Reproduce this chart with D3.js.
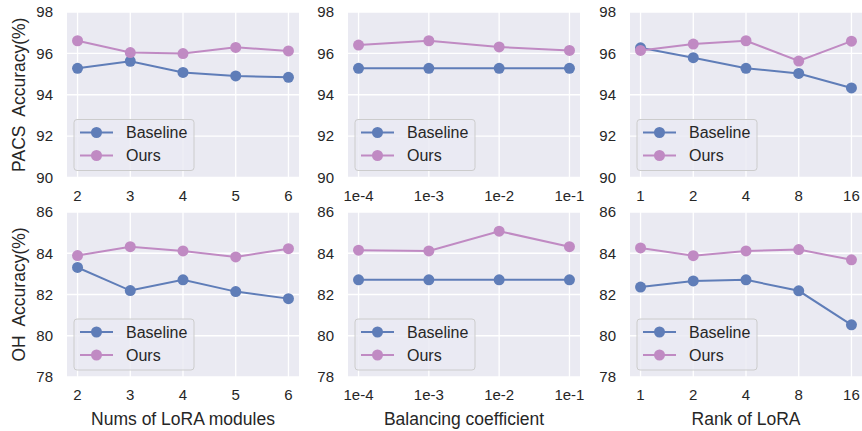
<!DOCTYPE html>
<html><head><meta charset="utf-8">
<script src="https://cdn.jsdelivr.net/npm/d3@7"></script>
<style>body{margin:0;background:#fff}svg{display:block}text{font-family:"Liberation Sans",Arial,sans-serif;fill:#262626}</style>
</head><body><div id="c"></div>
<script>
// x categories per column
const xLoRA = ["2","3","4","5","6"];
const xBal = ["1e-4","1e-3","1e-2","1e-1"];
const xRank = ["1","2","4","8","16"];
const xLabels = ["Nums of LoRA modules","Balancing coefficient","Rank of LoRA"];
const yLabels = ["PACS  Accuracy(%)","OH  Accuracy(%)"];
const yTicksPACS = [90,92,94,96,98];
const yTicksOH = [78,80,82,84,86];
// PACS row
const pacsBaseLoRA = [95.28,95.62,95.08,94.91,94.84];
const pacsOursLoRA = [96.61,96.04,95.99,96.29,96.12];
const pacsBaseBal = [95.28,95.28,95.28,95.28];
const pacsOursBal = [96.40,96.61,96.31,96.14];
const pacsBaseRank = [96.27,95.79,95.28,95.03,94.33];
const pacsOursRank = [96.14,96.45,96.61,95.63,96.59];
// OH row
const ohBaseLoRA = [83.31,82.19,82.71,82.14,81.80];
const ohOursLoRA = [83.89,84.32,84.11,83.82,84.22];
const ohBaseBal = [82.71,82.71,82.71,82.71];
const ohOursBal = [84.15,84.11,85.07,84.32];
const ohBaseRank = [82.36,82.66,82.71,82.18,80.53];
const ohOursRank = [84.26,83.88,84.11,84.18,83.68];
const seriesNames = ["Baseline","Ours"];

const W=862,H=431;
const colors=["#5f7db8","#c08ac3"];
const svg=d3.select("#c").append("svg").attr("width",W).attr("height",H);
const cols=[{x0:67,x1:299,cats:xLoRA},{x0:348,x1:580,cats:xBal},{x0:630,x1:862,cats:xRank}];
const rows=[{y0:12,y1:177.5,ticks:yTicksPACS,data:[[pacsBaseLoRA,pacsOursLoRA],[pacsBaseBal,pacsOursBal],[pacsBaseRank,pacsOursRank]]},
            {y0:212,y1:377,ticks:yTicksOH,data:[[ohBaseLoRA,ohOursLoRA],[ohBaseBal,ohOursBal],[ohBaseRank,ohOursRank]]}];

rows.forEach((r,ri)=>{
  cols.forEach((c,ci)=>{
    const n=c.cats.length;
    const x=d3.scaleLinear().domain([-0.05*(n-1),(n-1)*1.05]).range([c.x0,c.x1]);
    const y=d3.scaleLinear().domain([r.ticks[0],r.ticks[r.ticks.length-1]]).range([r.y1,r.y0]);
    const g=svg.append("g");
    g.append("rect").attr("x",c.x0).attr("y",r.y0).attr("width",c.x1-c.x0).attr("height",r.y1-r.y0).attr("fill","#eaeaf2");
    // grid
    g.selectAll(".gy").data(r.ticks).join("line").attr("x1",c.x0).attr("x2",c.x1)
      .attr("y1",d=>y(d)).attr("y2",d=>y(d)).attr("stroke","#fff").attr("stroke-width",1.3);
    g.selectAll(".gx").data(c.cats).join("line").attr("y1",r.y0).attr("y2",r.y1)
      .attr("x1",(d,i)=>x(i)).attr("x2",(d,i)=>x(i)).attr("stroke","#fff").attr("stroke-width",1.3);
    // y ticks
    g.selectAll(".ty").data(r.ticks).join("text").attr("x",c.x0-14).attr("y",d=>y(d)).attr("dy","0.35em")
      .attr("text-anchor","end").attr("font-size",15).text(d=>d);
    // x ticks
    g.selectAll(".tx").data(c.cats).join("text").attr("x",(d,i)=>x(i)).attr("y",r.y1+23)
      .attr("text-anchor","middle").attr("font-size",15).text(d=>d);
    // series
    r.data[ci].forEach((vals,si)=>{
      const line=d3.line().x((d,i)=>x(i)).y(d=>y(d));
      g.append("path").datum(vals).attr("d",line).attr("fill","none").attr("stroke",colors[si]).attr("stroke-width",2);
      g.selectAll(".m"+si).data(vals).join("circle").attr("cx",(d,i)=>x(i)).attr("cy",d=>y(d)).attr("r",5.5).attr("fill",colors[si]);
    });
    // legend
    const lx=c.x0+7, ly=r.y1-58;
    const lg=g.append("g");
    lg.append("rect").attr("x",lx).attr("y",ly).attr("width",120).attr("height",51).attr("rx",3)
      .attr("fill","#eaeaf2").attr("fill-opacity",0.8).attr("stroke","#cccccc").attr("stroke-width",1);
    seriesNames.forEach((nm,si)=>{
      const yy=ly+13+si*23;
      lg.append("line").attr("x1",lx+6).attr("x2",lx+39).attr("y1",yy).attr("y2",yy).attr("stroke",colors[si]).attr("stroke-width",2);
      lg.append("circle").attr("cx",lx+22.5).attr("cy",yy).attr("r",5.5).attr("fill",colors[si]);
      lg.append("text").attr("x",lx+52).attr("y",yy).attr("dy","0.35em").attr("font-size",16).text(nm);
    });
    if(ri===1){
      svg.append("text").attr("x",(c.x0+c.x1)/2).attr("y",H-6).attr("text-anchor","middle").attr("font-size",17.5).text(xLabels[ci]);
    }
  });
  svg.append("text").attr("transform",`translate(25,${(r.y0+r.y1)/2}) rotate(-90)`).attr("text-anchor","middle")
    .attr("font-size",17.5).attr("xml:space","preserve").style("white-space","pre").text(yLabels[ri]);
});
</script></body></html>
